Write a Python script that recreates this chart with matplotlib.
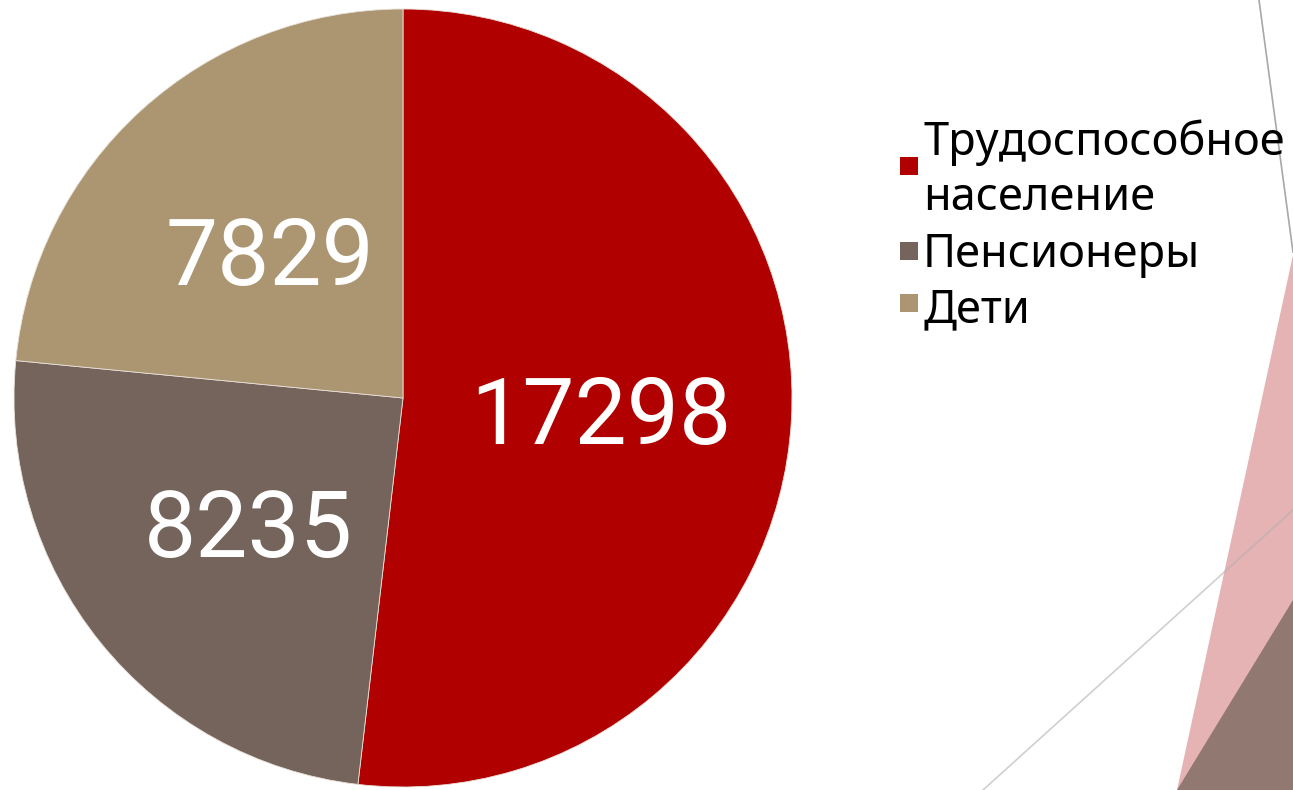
import matplotlib.pyplot as plt
from matplotlib.patches import Polygon, Rectangle
from matplotlib.lines import Line2D

# data
groups = ['Трудоспособное\nнаселение', 'Пенсионеры', 'Дети']
values = [17298, 8235, 7829]
colors = ['#B00000', '#74645B', '#AC9672']

W, H = 1293, 790
fig = plt.figure(figsize=(W / 100, H / 100), dpi=100)
fig.patch.set_facecolor('white')


def fx(x):
    return x / W


def fy(y):
    return 1 - y / H


# slide decoration on the right
fig.add_artist(Polygon([(fx(1293), fy(255)), (fx(1177), fy(790)), (fx(1293), fy(790))],
                       closed=True, facecolor='#E5B3B3', edgecolor='none', transform=fig.transFigure, zorder=0))
fig.add_artist(Polygon([(fx(1293), fy(600)), (fx(1177), fy(790)), (fx(1293), fy(790))],
                       closed=True, facecolor='#917870', edgecolor='none', transform=fig.transFigure, zorder=0))
fig.add_artist(Line2D([fx(1259), fx(1293)], [fy(0), fy(252)], color='#A8A8A8', lw=1.2,
                      transform=fig.transFigure, zorder=1))
fig.add_artist(Line2D([fx(983), fx(1293)], [fy(790), fy(510)], color='#B0B0B0', lw=1.2, alpha=0.6,
                      transform=fig.transFigure, zorder=1))

# pie
cx, cy, r = 403, 398, 389
ax = fig.add_axes([fx(cx - r), fy(cy + r), 2 * r / W, 2 * r / H])
wedges, texts, autotexts = ax.pie(values, colors=colors, startangle=90, counterclock=False,
                                  autopct='', pctdistance=0.51,
                                  wedgeprops=dict(edgecolor='#E8E0D8', linewidth=0.6))
for t, v in zip(autotexts, values):
    t.set_text(str(v))
    t.set_color('white')
    t.set_fontsize(67)
    t.set_family('Roboto')
    x, y = t.get_position()
    t.set_position((x, y - 0.022))
ax.set_xlim(-1, 1)
ax.set_ylim(-1, 1)
ax.set_aspect('auto')
ax.axis('off')

# legend, drawn by hand to match the slide
marker_y = [166, 251, 303]
text_y = [210, 267, 322]   # baseline of the last line of each label
for lab, col, my, ty in zip(groups, colors, marker_y, text_y):
    fig.add_artist(Rectangle((fx(900), fy(my + 9)), 18 / W, 18 / H, facecolor=col,
                             edgecolor='none', transform=fig.transFigure))
    fig.text(fx(923), fy(ty), lab, ha='left', va='baseline', fontsize=32.5,
             family='Noto Sans', linespacing=1.26, color='black')

fig.savefig('out.png', dpi=100, facecolor='white')
